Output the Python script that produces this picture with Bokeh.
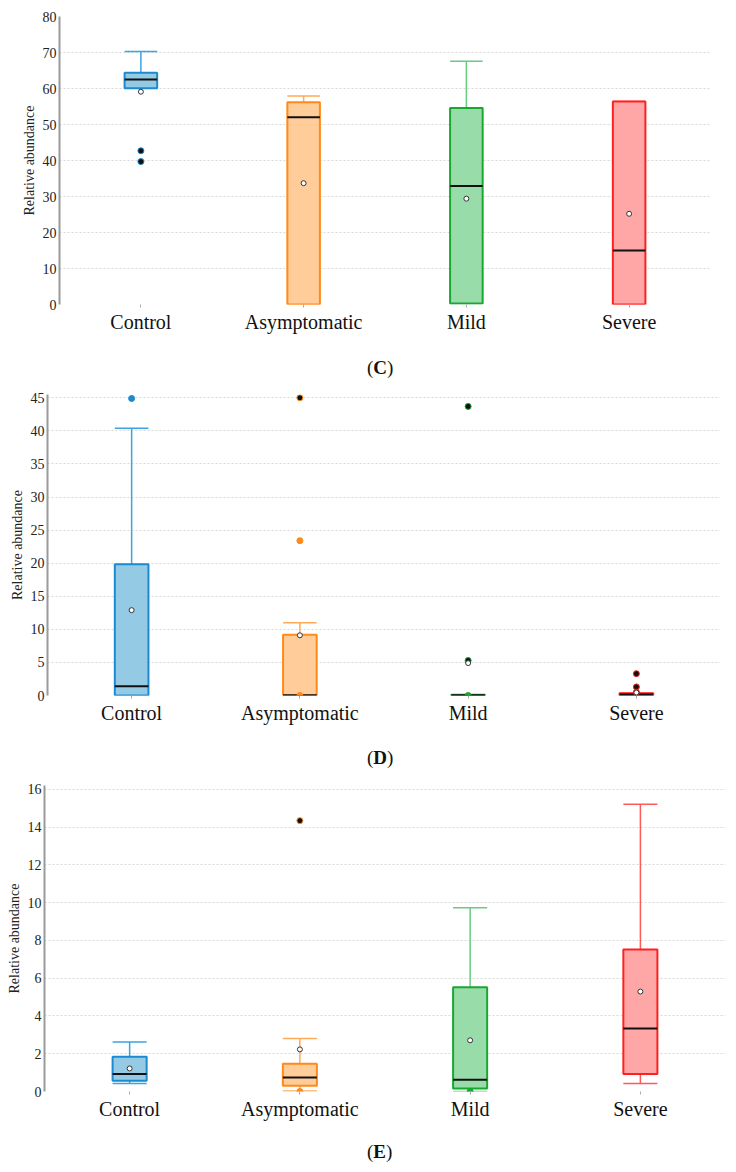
from bokeh.plotting import figure
from bokeh.models import (ColumnDataSource, FactorRange, Range1d, SingleIntervalTicker, Div)
from bokeh.layouts import column
from bokeh.transform import dodge
from bokeh.embed import file_html
from bokeh.resources import INLINE

categories = ["Control", "Asymptomatic", "Mild", "Severe"]

# Panel C
C_low = [60.1, 0.0, 0.3, 0.0]
C_q1 = [60.1, 0.0, 0.3, 0.0]
C_median = [62.5, 52.0, 32.9, 15.0]
C_q3 = [64.4, 56.2, 54.6, 56.4]
C_high = [70.3, 57.9, 67.6, 56.4]
C_mean = [59.1, 33.7, 29.4, 25.2]
C_out_cat = ["Control", "Control"]
C_out_val = [42.7, 39.7]
C_out_dark = [True, True]

# Panel D
D_low = [0.0, 0.0, 0.0, 0.0]
D_q1 = [0.0, 0.0, 0.0, 0.0]
D_median = [1.4, 0.05, 0.05, 0.15]
D_q3 = [19.85, 9.2, 0.1, 0.35]
D_high = [40.4, 11.0, 0.1, 0.35]
D_mean = [12.9, 9.1, 4.9, 0.45]
D_out_cat = ["Control", "Asymptomatic", "Asymptomatic", "Asymptomatic",
             "Mild", "Mild", "Mild", "Severe", "Severe", "Severe"]
D_out_val = [44.9, 45.0, 23.4, 0.0, 43.7, 5.3, 0.0, 3.3, 1.3, 0.5]
D_out_dark = [False, True, False, False, True, True, False, True, True, False]

# Panel E
E_low = [0.42, 0.02, 0.0, 0.42]
E_q1 = [0.57, 0.30, 0.16, 0.92]
E_median = [0.92, 0.74, 0.62, 3.33]
E_q3 = [1.84, 1.47, 5.52, 7.52]
E_high = [2.62, 2.81, 9.73, 15.21]
E_mean = [1.22, 2.23, 2.71, 5.29]
E_out_cat = ["Asymptomatic", "Asymptomatic", "Mild"]
E_out_val = [14.34, 0.0, 0.0]
E_out_dark = [True, False, False]

y_title = "Relative abundance"

line_colors = {"Control": "#1C8AD0", "Asymptomatic": "#FF8A1A", "Mild": "#18A832", "Severe": "#FF2020"}
whisk_colors = {"Control": "#3AA3E0", "Asymptomatic": "#FFAA55", "Mild": "#66CC80", "Severe": "#FF5a5a"}
fill_colors = {"Control": "#94CAE4", "Asymptomatic": "#FFCC9A", "Mild": "#98DCAA", "Severe": "#FFA6A6"}

SERIF = "Liberation Serif"


def panel(low, q1, med, q3, high, mean, ocat, oval, odark, ytop, step,
          height, bl, bt, bb, br):
    p = figure(x_range=FactorRange(factors=categories), y_range=Range1d(0, ytop),
               width=736, height=height, output_backend="svg", toolbar_location=None,
               min_border_left=bl, min_border_top=bt, min_border_bottom=bb,
               min_border_right=br, frame_align=False)
    p.outline_line_color = None
    p.background_fill_color = "white"
    src = ColumnDataSource(dict(
        cat=categories, low=low, q1=q1, med=med, q3=q3, high=high, mean=mean,
        line=[line_colors[c] for c in categories],
        whisk=[whisk_colors[c] for c in categories],
        fill=[fill_colors[c] for c in categories]))
    left = dodge("cat", -0.1, range=p.x_range)
    right = dodge("cat", 0.1, range=p.x_range)
    # whiskers
    p.segment(x0="cat", y0="q3", x1="cat", y1="high", line_color="whisk", line_width=1.5, source=src)
    p.segment(x0=left, y0="high", x1=right, y1="high", line_color="whisk", line_width=1.5, source=src)
    p.segment(x0="cat", y0="q1", x1="cat", y1="low", line_color="whisk", line_width=1.5, source=src)
    p.segment(x0=left, y0="low", x1=right, y1="low", line_color="whisk", line_width=1.5, source=src)
    # boxes
    p.vbar(x="cat", width=0.2, bottom="q1", top="q3", fill_color="fill", line_color="line",
           line_width=2, source=src)
    p.segment(x0=left, y0="med", x1=right, y1="med", line_color="#111111", line_width=2, source=src)
    # outliers
    osrc = ColumnDataSource(dict(
        cat=ocat, val=oval,
        fill=["#111111" if d else line_colors[c] for c, d in zip(ocat, odark)],
        line=[line_colors[c] for c in ocat]))
    p.scatter(x="cat", y="val", marker="circle", size=6, fill_color="fill", line_color="line",
              line_width=1, source=osrc)
    # means
    p.scatter(x="cat", y="mean", marker="circle", size=5, fill_color="white",
              line_color="#333333", line_width=1, source=src)

    p.xgrid.grid_line_color = None
    p.ygrid.ticker = SingleIntervalTicker(interval=step)
    p.ygrid.grid_line_color = "#d8d8d8"
    p.ygrid.grid_line_dash = "2 2"
    p.ygrid.grid_line_width = 1

    ya = p.yaxis[0]
    ya.ticker = SingleIntervalTicker(interval=step)
    ya.axis_line_color = "#9a9a9a"
    ya.axis_line_width = 2
    ya.major_tick_line_color = None
    ya.minor_tick_line_color = None
    ya.major_tick_out = 0
    ya.major_tick_in = 0
    ya.minor_tick_out = 0
    ya.minor_tick_in = 0
    ya.major_label_text_font = SERIF
    ya.major_label_text_font_size = "14px"
    ya.major_label_text_color = "#222222"
    ya.major_label_standoff = 3
    ya.axis_label = y_title
    ya.axis_label_text_font = SERIF
    ya.axis_label_text_font_size = "14px"
    ya.axis_label_text_font_style = "normal"
    ya.axis_label_text_color = "#222222"
    ya.axis_label_standoff = 3

    xa = p.xaxis[0]
    xa.axis_line_color = None
    xa.major_tick_line_color = "#aaaaaa"
    xa.major_tick_out = 3
    xa.major_tick_in = 0
    xa.minor_tick_line_color = None
    xa.major_label_text_font = SERIF
    xa.major_label_text_font_size = "20px"
    xa.major_label_text_color = "#111111"
    xa.major_label_standoff = 3
    return p


def caption(letter, h):
    return Div(text="(<b>%s</b>)" % letter, width=736, height=h, margin=(0, 0, 0, 0),
               styles={"font-family": SERIF, "font-size": "19px", "line-height": "%dpx" % h,
                       "padding-left": "367px", "color": "#111111"})


pC = panel(C_low, C_q1, C_median, C_q3, C_high, C_mean, C_out_cat, C_out_val, C_out_dark,
           80, 10, 350, 59, 16, 46, 26)
pD = panel(D_low, D_q1, D_median, D_q3, D_high, D_mean, D_out_cat, D_out_val, D_out_dark,
           45.5, 5, 354, 47, 8, 45, 16)
pE = panel(E_low, E_q1, E_median, E_q3, E_high, E_mean, E_out_cat, E_out_val, E_out_dark,
           16.2, 2, 361, 44, 9, 46, 11)

layout = column(pC, caption("C", 36), pD, caption("D", 36), pE, caption("E", 30), spacing=0)

open("out.html", "w").write(file_html(layout, INLINE))
